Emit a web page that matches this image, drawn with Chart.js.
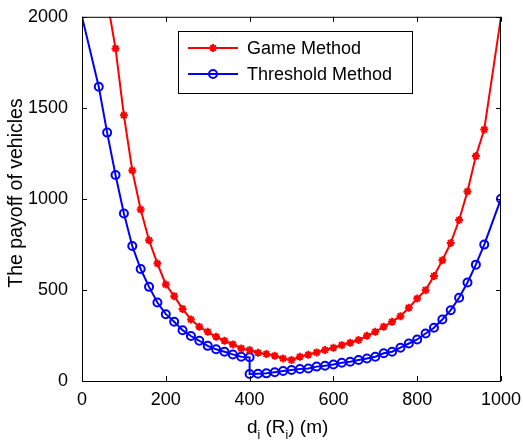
<!DOCTYPE html>
<html>
<head>
<meta charset="utf-8">
<script src="https://cdn.jsdelivr.net/npm/chart.js@4.4.1/dist/chart.umd.min.js"></script>
<style>
  body { margin: 0; background: #fff; }
  #wrap { width: 523px; height: 441px; }
</style>
</head>
<body>
<div id="wrap"><canvas id="payoffChart" width="523" height="441"></canvas></div>
<script>
// values (x = d_i in metres, y = payoff)
const gameX = [60, 80, 100, 120, 140, 160, 180, 200, 220, 240, 260, 280, 300, 320, 340, 360, 380, 400,
  420, 440, 460, 480, 500, 520, 540, 560, 580, 600, 620, 640, 660, 680, 700, 720, 740, 760, 780, 800,
  820, 840, 860, 880, 900, 920, 940, 960, 1000];
const gameY = [2094, 1826, 1459, 1156, 942, 773, 645, 530, 466, 396, 338, 298, 270, 243, 221, 201, 179, 170,
  155, 148, 139, 124, 115, 133, 144, 157, 170, 183, 197, 210, 225, 248, 270, 298, 325, 356, 402, 453,
  499, 577, 663, 758, 884, 1041, 1235, 1381, 2000];

const thresholdX = [0, 40, 60, 80, 100, 120, 140, 160, 180, 200, 220, 240, 260, 280, 300, 320, 340, 360, 380, 400,
  400, 420, 440, 460, 480, 500, 520, 540, 560, 580, 600, 620, 640, 660, 680, 700, 720, 740, 760, 780,
  800, 820, 840, 860, 880, 900, 920, 940, 960, 1000];
const thresholdY = [2000, 1616, 1364, 1131, 920, 741, 615, 517, 431, 367, 325, 279, 247, 221, 193, 174, 161, 146, 133, 130,
  38, 40, 42, 48, 55, 60, 66, 69, 79, 84, 91, 100, 106, 115, 124, 133, 152, 161, 183, 206,
  228, 261, 292, 338, 389, 457, 541, 639, 749, 1001];

const xTicks = [0, 200, 400, 600, 800, 1000];
const yTicks = [0, 500, 1000, 1500, 2000];
const seriesNames = ['Game Method', 'Threshold Method'];

const FONT = '"Liberation Sans", Arial, sans-serif';

const toPoints = (xs, ys) => xs.map((x, i) => ({ x: x, y: ys[i] }));
const hideOutside = ctx => (ctx.raw && ctx.raw.y >= 2000) ? 0 : 4;

// MATLAB-ish frame, inward ticks, axis titles and legend box
const matlabFrame = {
  id: 'matlabFrame',
  afterDraw(chart) {
    const { ctx, chartArea: a, scales } = chart;
    ctx.save();
    ctx.strokeStyle = '#000';
    ctx.lineWidth = 1;
    ctx.strokeRect(a.left + 0.5, a.top + 0.5, a.right - a.left - 1, a.bottom - a.top);
    ctx.beginPath();
    xTicks.forEach(v => {
      const px = Math.round(scales.x.getPixelForValue(v)) + 0.5;
      ctx.moveTo(px, a.bottom); ctx.lineTo(px, a.bottom - 5);
      ctx.moveTo(px, a.top); ctx.lineTo(px, a.top + 5);
    });
    yTicks.forEach(v => {
      const py = Math.round(scales.y.getPixelForValue(v)) + 0.5;
      ctx.moveTo(a.left, py); ctx.lineTo(a.left + 5, py);
      ctx.moveTo(a.right, py); ctx.lineTo(a.right - 5, py);
    });
    ctx.stroke();

    // y title
    ctx.fillStyle = '#000';
    ctx.font = '19.5px ' + FONT;
    ctx.textAlign = 'center';
    ctx.textBaseline = 'middle';
    ctx.save();
    ctx.translate(17, 193);
    ctx.rotate(-Math.PI / 2);
    ctx.fillText('The payoff of vehicles', 0, 0);
    ctx.restore();

    // x title with subscripts: d_i (R_i) (m)
    const parts = [['d', 0], ['i', 1], [' (R', 0], ['i', 1], [') (m)', 0]];
    const big = '19px ' + FONT, small = '12px ' + FONT;
    let cx = 247;
    const base = 433;
    ctx.textAlign = 'left';
    ctx.textBaseline = 'alphabetic';
    parts.forEach(p => {
      ctx.font = p[1] ? small : big;
      ctx.fillText(p[0], cx, p[1] ? base + 6 : base);
      cx += ctx.measureText(p[0]).width;
    });

    // legend
    const box = { x: 178.5, y: 31.5, w: 234, h: 62 };
    ctx.fillStyle = '#fff';
    ctx.fillRect(box.x, box.y, box.w, box.h);
    ctx.strokeStyle = '#000';
    ctx.strokeRect(box.x, box.y, box.w, box.h);
    chart.data.datasets.forEach((ds, i) => {
      const y = 48 + i * 26;
      ctx.strokeStyle = ds.borderColor;
      ctx.lineWidth = 2;
      ctx.beginPath();
      ctx.moveTo(188, y); ctx.lineTo(238, y);
      ctx.stroke();
      ctx.beginPath();
      if (ds.pointStyle === 'star') {
        for (let k = 0; k < 4; k++) {
          const ang = k * Math.PI / 4;
          ctx.moveTo(213 - 4 * Math.cos(ang), y - 4 * Math.sin(ang));
          ctx.lineTo(213 + 4 * Math.cos(ang), y + 4 * Math.sin(ang));
        }
      } else {
        ctx.arc(213, y, 4, 0, Math.PI * 2);
      }
      ctx.stroke();
      ctx.fillStyle = '#000';
      ctx.font = '18px ' + FONT;
      ctx.textBaseline = 'middle';
      ctx.fillText(ds.label, 247, y + 1);
    });
    ctx.restore();
  }
};

new Chart(document.getElementById('payoffChart'), {
  type: 'line',
  data: {
    datasets: [{
      label: seriesNames[0],
      data: toPoints(gameX, gameY),
      borderColor: '#ff0000',
      backgroundColor: '#ff0000',
      borderWidth: 2,
      pointStyle: 'star',
      pointRadius: hideOutside,
      pointBorderWidth: 2,
      tension: 0
    }, {
      label: seriesNames[1],
      data: toPoints(thresholdX, thresholdY),
      borderColor: '#0000ff',
      backgroundColor: 'transparent',
      borderWidth: 2,
      pointStyle: 'circle',
      pointRadius: hideOutside,
      pointBorderWidth: 2,
      tension: 0
    }]
  },
  options: {
    responsive: false,
    animation: false,
    layout: { padding: { left: 0, top: 16, right: 22, bottom: 0 } },
    plugins: {
      legend: { display: false },
      tooltip: { enabled: false }
    },
    scales: {
      x: {
        type: 'linear',
        min: 0,
        max: 1000,
        grid: { display: false },
        border: { display: false },
        afterBuildTicks: s => { s.ticks = xTicks.map(v => ({ value: v })); },
        afterFit: s => { s.height = 60; },
        ticks: { color: '#000', padding: 0, maxRotation: 0, callback: v => String(v), font: { family: FONT, size: 18 } }
      },
      y: {
        min: 0,
        max: 2000,
        grid: { display: false },
        border: { display: false },
        afterBuildTicks: s => { s.ticks = yTicks.map(v => ({ value: v })); },
        afterFit: s => { s.width = 82; },
        ticks: { color: '#000', padding: 6, callback: v => String(v), font: { family: FONT, size: 18 } }
      }
    }
  },
  plugins: [matlabFrame]
});
</script>
</body>
</html>
